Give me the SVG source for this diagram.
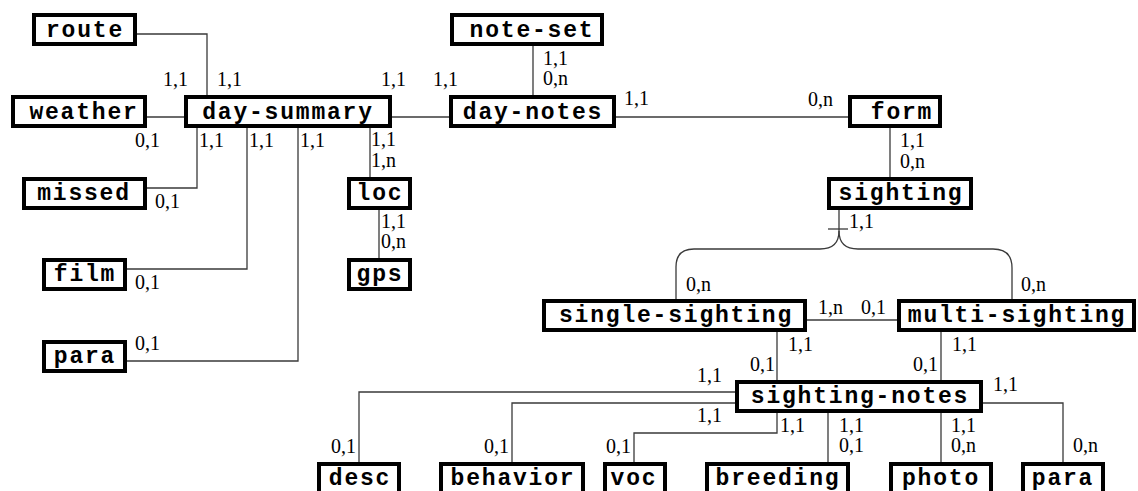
<svg xmlns="http://www.w3.org/2000/svg" width="1138" height="491" viewBox="0 0 1138 491">
  <style>
    .box { fill: #ffffff; stroke: #000000; stroke-width: 4; }
    .name { font-family: "Liberation Mono", "DejaVu Sans Mono", monospace; font-weight: bold; font-size: 23px; letter-spacing: 1.8px; text-anchor: middle; fill: #000000; }
    .edge { fill: none; stroke: #3a3a3a; stroke-width: 1.3; }
    .card { font-family: "Liberation Serif", "DejaVu Serif", serif; font-size: 20px; fill: #000000; }
  </style>
  <rect width="1138" height="491" fill="#ffffff"/>

  <!-- connectors -->
  <g id="connectors">
    <path class="edge" d="M137,34 H207 V95"/>
    <path class="edge" d="M147,117 H184"/>
    <path class="edge" d="M392,117 H449"/>
    <path class="edge" d="M533,46 V95"/>
    <path class="edge" d="M616,117 H848"/>
    <path class="edge" d="M147,188 H197 V128"/>
    <path class="edge" d="M127,269 H247 V128"/>
    <path class="edge" d="M127,361 H298 V128"/>
    <path class="edge" d="M370,128 V177"/>
    <path class="edge" d="M379,210 V258"/>
    <path class="edge" d="M890,128 V177"/>
    <!-- sighting specialisation: stem, tick and two rounded branches -->
    <path class="edge" d="M839,210 V231"/>
    <path class="edge" d="M828,229 H848"/>
    <path class="edge" d="M839,231 Q839,249 820,249 H694 Q676,249 676,267 V299"/>
    <path class="edge" d="M839,231 Q839,249 858,249 H993 Q1012,249 1012,268 V299"/>
    <path class="edge" d="M807,320 H897"/>
    <path class="edge" d="M777,332 V380"/>
    <path class="edge" d="M941,332 V380"/>
    <path class="edge" d="M735,392 H359 V462"/>
    <path class="edge" d="M735,403 H512 V462"/>
    <path class="edge" d="M777,413 V433 H634 V462"/>
    <path class="edge" d="M828,413 V462"/>
    <path class="edge" d="M941,413 V462"/>
    <path class="edge" d="M983,403 H1063 V462"/>
  </g>

  <!-- cardinalities -->
  <g id="cardinalities" class="card">
    <text x="163" y="86">1,1</text>
    <text x="217" y="86">1,1</text>
    <text x="381" y="86">1,1</text>
    <text x="433" y="86">1,1</text>
    <text x="543" y="65">1,1</text>
    <text x="543" y="85">0,n</text>
    <text x="624" y="105">1,1</text>
    <text x="808" y="106">0,n</text>
    <text x="135" y="147">0,1</text>
    <text x="199" y="147">1,1</text>
    <text x="249" y="147">1,1</text>
    <text x="300" y="147">1,1</text>
    <text x="371" y="146">1,1</text>
    <text x="371" y="167">1,n</text>
    <text x="155" y="208">0,1</text>
    <text x="135" y="289">0,1</text>
    <text x="135" y="350">0,1</text>
    <text x="381" y="228">1,1</text>
    <text x="381" y="248">0,n</text>
    <text x="900" y="147">1,1</text>
    <text x="900" y="168">0,n</text>
    <text x="849" y="228">1,1</text>
    <text x="686" y="291">0,n</text>
    <text x="1021" y="291">0,n</text>
    <text x="818" y="314">1,n</text>
    <text x="861" y="314">0,1</text>
    <text x="788" y="351">1,1</text>
    <text x="750" y="371">0,1</text>
    <text x="952" y="351">1,1</text>
    <text x="913" y="371">0,1</text>
    <text x="697" y="382">1,1</text>
    <text x="697" y="422">1,1</text>
    <text x="993" y="391">1,1</text>
    <text x="780" y="432">1,1</text>
    <text x="839" y="432">1,1</text>
    <text x="839" y="452">0,1</text>
    <text x="951" y="432">1,1</text>
    <text x="951" y="452">0,n</text>
    <text x="1073" y="452">0,n</text>
    <text x="331" y="453">0,1</text>
    <text x="484" y="453">0,1</text>
    <text x="606" y="453">0,1</text>
  </g>

  <!-- entities -->
  <g id="route"><rect class="box" x="34" y="15" width="101" height="29"/><text class="name" x="85" y="37">route</text></g>
  <g id="note-set"><rect class="box" x="452" y="15" width="150" height="29"/><text class="name" x="532" y="37">note-set</text></g>
  <g id="weather"><rect class="box" x="13" y="97" width="132" height="29"/><text class="name" x="84" y="119">weather</text></g>
  <g id="day-summary"><rect class="box" x="186" y="97" width="204" height="29"/><text class="name" x="288" y="119">day-summary</text></g>
  <g id="day-notes"><rect class="box" x="451" y="97" width="163" height="29"/><text class="name" x="533" y="119">day-notes</text></g>
  <g id="form"><rect class="box" x="850" y="97" width="90" height="29"/><text class="name" x="902" y="119">form</text></g>
  <g id="missed"><rect class="box" x="24" y="179" width="121" height="29"/><text class="name" x="84" y="200">missed</text></g>
  <g id="loc"><rect class="box" x="349" y="179" width="61" height="29"/><text class="name" x="380" y="200">loc</text></g>
  <g id="sighting"><rect class="box" x="829" y="179" width="142" height="29"/><text class="name" x="901" y="200">sighting</text></g>
  <g id="film"><rect class="box" x="44" y="260" width="81" height="29"/><text class="name" x="85" y="281">film</text></g>
  <g id="gps"><rect class="box" x="349" y="260" width="61" height="29"/><text class="name" x="380" y="281">gps</text></g>
  <g id="single-sighting"><rect class="box" x="544" y="301" width="261" height="29"/><text class="name" x="676" y="322">single-sighting</text></g>
  <g id="multi-sighting"><rect class="box" x="899" y="301" width="235" height="29"/><text class="name" x="1017" y="322">multi-sighting</text></g>
  <g id="para-day"><rect class="box" x="44" y="342" width="81" height="29"/><text class="name" x="85" y="363">para</text></g>
  <g id="sighting-notes"><rect class="box" x="737" y="382" width="244" height="29"/><text class="name" x="860" y="403">sighting-notes</text></g>
  <g id="desc"><rect class="box" x="319" y="464" width="80" height="29"/><text class="name" x="360" y="485">desc</text></g>
  <g id="behavior"><rect class="box" x="441" y="464" width="142" height="29"/><text class="name" x="513" y="485">behavior</text></g>
  <g id="voc"><rect class="box" x="605" y="464" width="60" height="29"/><text class="name" x="634" y="485">voc</text></g>
  <g id="breeding"><rect class="box" x="707" y="464" width="141" height="29"/><text class="name" x="778" y="485">breeding</text></g>
  <g id="photo"><rect class="box" x="891" y="464" width="100" height="29"/><text class="name" x="941" y="485">photo</text></g>
  <g id="para-sighting"><rect class="box" x="1023" y="464" width="80" height="29"/><text class="name" x="1063" y="485">para</text></g>
</svg>
